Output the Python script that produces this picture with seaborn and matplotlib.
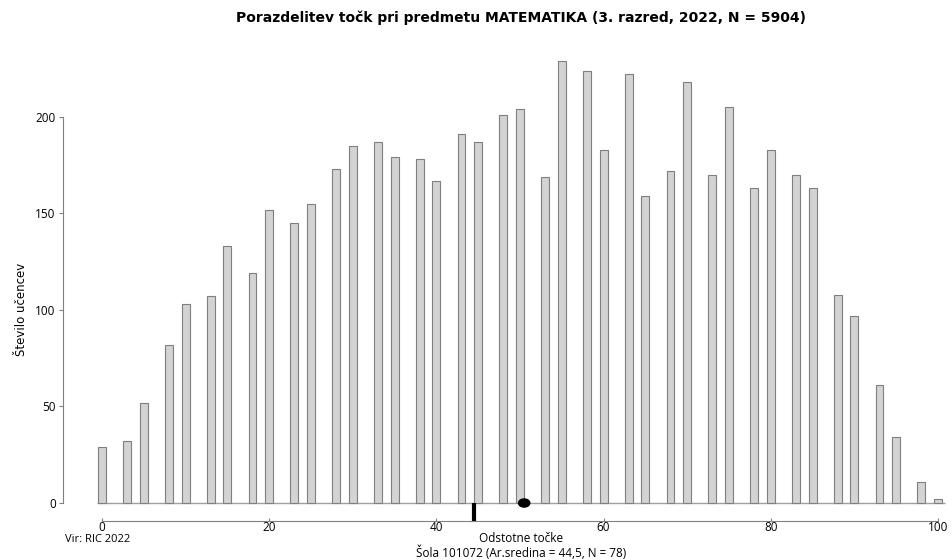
import numpy as np
import pandas as pd
import matplotlib
matplotlib.use("Agg")
import matplotlib.pyplot as plt
from matplotlib.patches import Ellipse
import seaborn as sns

# percent points (rounded from k * 2.5) and number of pupils
tocke = [0, 3, 5, 8, 10, 13, 15, 18, 20, 23, 25, 28, 30, 33, 35, 38, 40, 43, 45, 48,
         50, 53, 55, 58, 60, 63, 65, 68, 70, 73, 75, 78, 80, 83, 85, 88, 90, 93, 95, 98, 100]
ucenci = [29, 32, 52, 82, 103, 107, 133, 119, 152, 145, 155, 173, 185, 187, 179, 178, 167, 191, 187, 201,
          204, 169, 229, 224, 183, 222, 159, 172, 218, 170, 205, 163, 183, 170, 163, 108, 97, 61, 34, 11, 2]
x_ticks = [0, 20, 40, 60, 80, 100]
y_ticks = [0, 50, 100, 150, 200]
sola_mean = 44.5
drzava_mean = 50.5

sns.set_style("white")
plt.rcParams['font.family'] = ['Open Sans', 'DejaVu Sans']
plt.rcParams['text.color'] = 'black'
plt.rcParams['xtick.color'] = 'black'
plt.rcParams['ytick.color'] = 'black'

df = pd.DataFrame({"tocke": tocke, "ucenci": ucenci})

fig = plt.figure(figsize=(9.52, 5.6), dpi=100)
ax = fig.add_axes([0.0632, 0.0604, 0.9309, 0.8514])

sns.barplot(data=df, x="tocke", y="ucenci", native_scale=True, width=0.47,
            color="#d3d3d3", saturation=1, edgecolor="#7f7f7f", linewidth=0.8, ax=ax)

ax.set_xlim(-5, 101)
ax.set_ylim(-12, 235)
ax.set_xlabel("")
ax.set_ylabel("")

# baseline under bars
ax.hlines(0, -0.6, 100.8, color="#a0a0a0", lw=1, zorder=0)

# school mean and country mean
ax.plot([sola_mean, sola_mean], [0, -9.3], color="black", lw=3,
        solid_capstyle="butt", clip_on=False, zorder=5)
ax.add_patch(Ellipse((drzava_mean, 0), 1.35, 4.2, color="black", zorder=6, clip_on=False))

for s in ["top", "right"]:
    ax.spines[s].set_visible(False)
ax.spines["left"].set_position(("data", -4.7))
ax.spines["left"].set_bounds(0, 200)
ax.spines["bottom"].set_position(("data", -9.3))
ax.spines["bottom"].set_bounds(0, 100)
for s in ["left", "bottom"]:
    ax.spines[s].set_color("#808080")
    ax.spines[s].set_linewidth(0.8)

ax.set_xticks(x_ticks)
ax.set_xticklabels([str(t) for t in x_ticks])
ax.set_yticks(y_ticks)
ax.set_yticklabels([str(t) for t in y_ticks])
ax.tick_params(axis="y", direction="out", length=3, width=0.8, color="#808080",
               labelsize=8.5, pad=2, left=True)
ax.tick_params(axis="x", direction="in", length=2, width=0.8, color="#808080",
               labelsize=8.5, pad=0, bottom=True)

fig.text(0.547, 0.968, "Porazdelitev točk pri predmetu MATEMATIKA (3. razred, 2022, N = 5904)",
         ha="center", va="center", fontsize=10, fontweight="bold",
         family=["Liberation Sans Narrow", "DejaVu Sans"])
fig.text(0.023, 0.447, "Število učencev", rotation=90, ha="center", va="center",
         fontsize=8.5, family=["Liberation Sans Narrow", "DejaVu Sans"])
fig.text(0.068, 0.036, "Vir: RIC 2022", ha="left", va="center", fontsize=8)
fig.text(0.547, 0.039, "Odstotne točke", ha="center", va="center", fontsize=8.5)
fig.text(0.547, 0.013, "Šola 101072 (Ar.sredina = 44,5, N = 78)", ha="center", va="center",
         fontsize=8.5)

fig.savefig("out.png", dpi=100)
